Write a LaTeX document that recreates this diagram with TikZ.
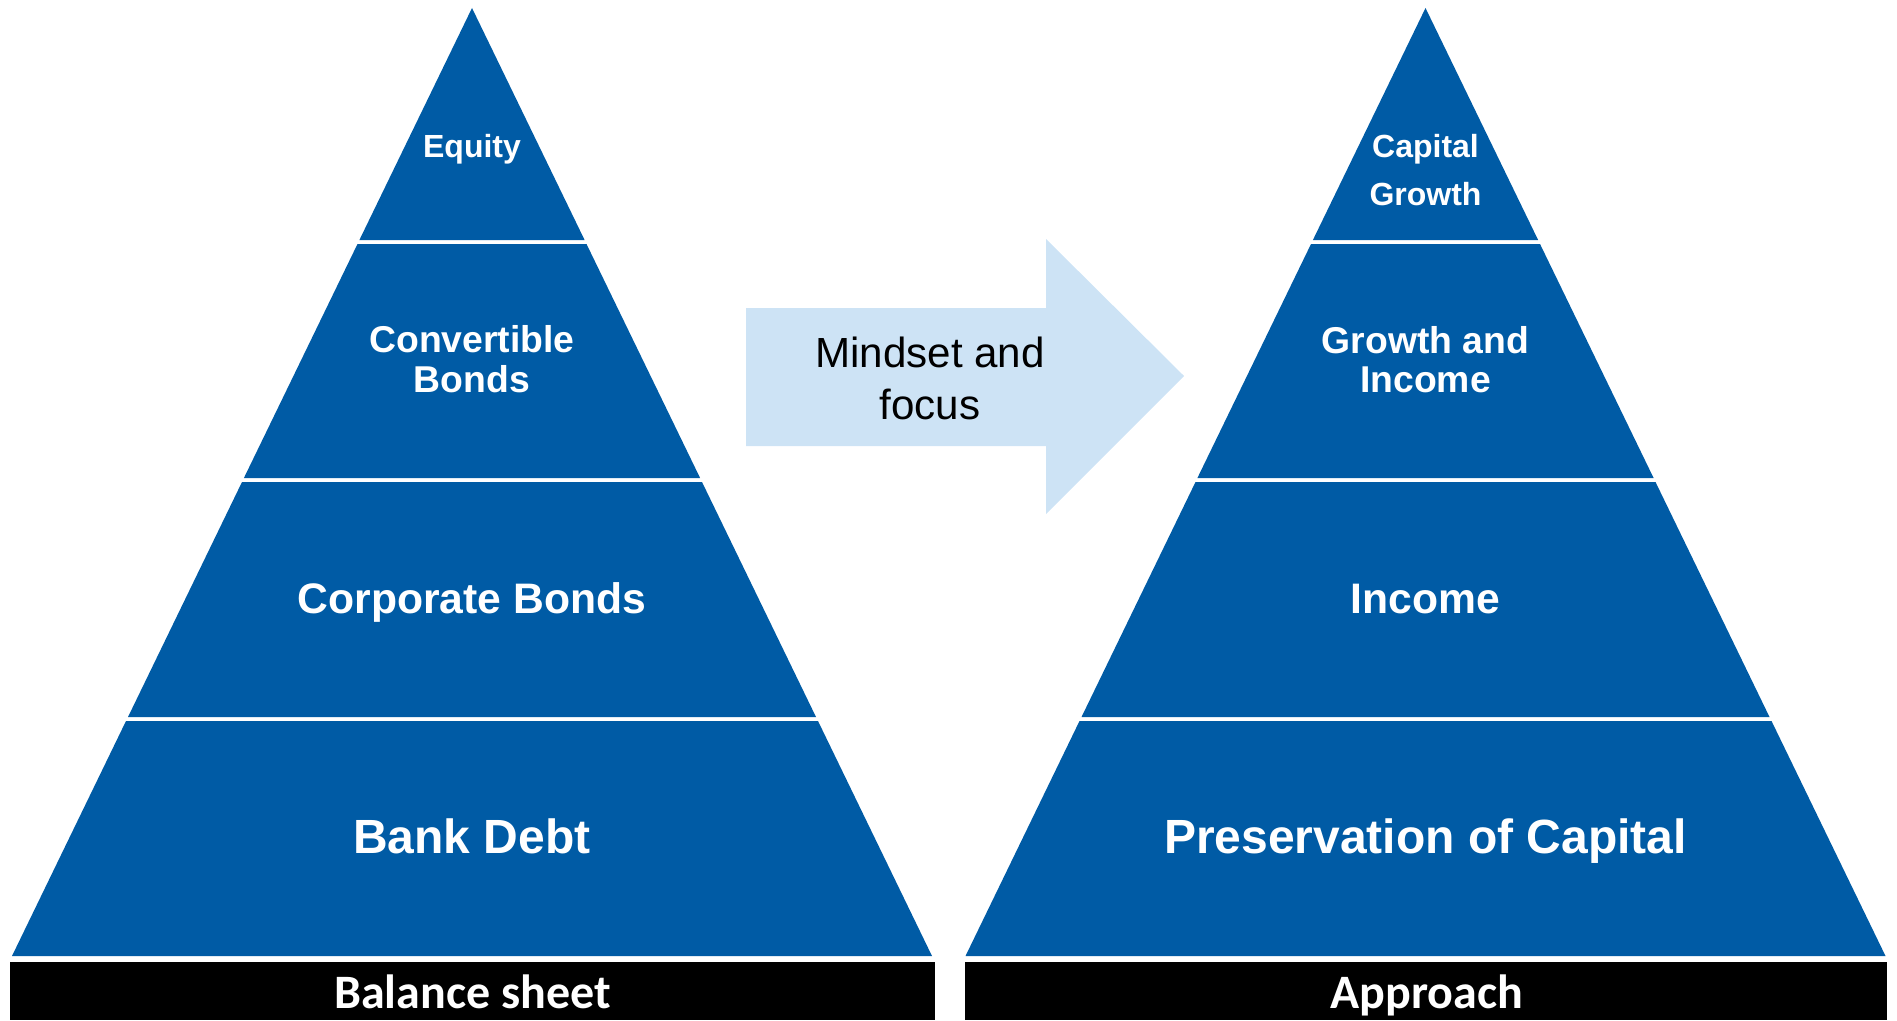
\documentclass[tikz,border=0pt]{standalone}
\usepackage{fontspec}
\setmainfont{Liberation Sans}
\newfontfamily\barfont{Carlito}

\definecolor{pyrblue}{RGB}{0,91,165}
\definecolor{arrblue}{RGB}{205,227,245}

\tikzset{every picture/.style={line width=0.75pt}}
\tikzset{
  layer/.style={fill=pyrblue, draw opacity=0},
  lbl/.style={anchor=base, inner sep=0pt, text=white, font=\bfseries},
  barlbl/.style={anchor=base, inner sep=0pt, text=white, font=\barfont\bfseries\fontsize{36}{42}\selectfont}
}

\begin{document}
\begin{tikzpicture}[x=0.75pt,y=0.75pt,yscale=-1,xscale=1]
\useasboundingbox (0,0) rectangle (1897,1020);

%Shape: Triangle [left top]
\draw [layer] (472,8) -- (584.6,240) -- (359.4,240) -- cycle ;
%Shape: Trapezoid [left 2]
\draw [layer] (357.5,244) -- (586.5,244) -- (700.1,478) -- (243.9,478) -- cycle ;
%Shape: Trapezoid [left 3]
\draw [layer] (242,482) -- (702,482) -- (816,717) -- (128,717) -- cycle ;
%Shape: Trapezoid [left 4]
\draw [layer] (126,721) -- (818,721) -- (932,956) -- (12,956) -- cycle ;

%Shape: Triangle [right top]
\draw [layer] (1425.5,8) -- (1538.1,240) -- (1312.9,240) -- cycle ;
%Shape: Trapezoid [right 2]
\draw [layer] (1311,244) -- (1540,244) -- (1653.6,478) -- (1197.4,478) -- cycle ;
%Shape: Trapezoid [right 3]
\draw [layer] (1195.5,482) -- (1655.5,482) -- (1769.5,717) -- (1081.5,717) -- cycle ;
%Shape: Trapezoid [right 4]
\draw [layer] (1079.5,721) -- (1771.5,721) -- (1885.5,956) -- (965.5,956) -- cycle ;

%Shape: Right Arrow
\draw [fill=arrblue, draw opacity=0] (746,308) -- (1046,308) -- (1046,239) -- (1184,376) -- (1046,514) -- (1046,446) -- (746,446) -- cycle ;

%Shape: Rectangle [bars]
\draw [fill=black, draw opacity=0] (10,962) rectangle (935,1020) ;
\draw [fill=black, draw opacity=0] (965,962) rectangle (1887,1020) ;

% Text Node
\draw (472,157) node [lbl, font=\bfseries\fontsize{24}{28}\selectfont] (equity) {Equity};
\draw (472,352) node [lbl, font=\bfseries\fontsize{28}{32}\selectfont] (conv1) {Convertible};
\draw (472,392) node [lbl, font=\bfseries\fontsize{28}{32}\selectfont] (conv2) {Bonds};
\draw (472,613) node [lbl, font=\bfseries\fontsize{32}{36}\selectfont] (corp) {Corporate Bonds};
\draw (472,853) node [lbl, font=\bfseries\fontsize{36}{40}\selectfont] (bank) {Bank Debt};

% Text Node
\draw (1425.5,157) node [lbl, font=\bfseries\fontsize{24}{28}\selectfont] (capg1) {Capital};
\draw (1425.5,205) node [lbl, font=\bfseries\fontsize{24}{28}\selectfont] (capg2) {Growth};
\draw (1425.5,353) node [lbl, font=\bfseries\fontsize{28}{32}\selectfont] (gri1) {Growth and};
\draw (1425.5,392) node [lbl, font=\bfseries\fontsize{28}{32}\selectfont] (gri2) {Income};
\draw (1425.5,613) node [lbl, font=\bfseries\fontsize{32}{36}\selectfont] (income) {Income};
\draw (1425.5,853) node [lbl, font=\bfseries\fontsize{36}{40}\selectfont] (presv) {Preservation of Capital};

% Text Node
\draw (930,367) node [anchor=base, inner sep=0pt, font=\fontsize{31.6}{36}\selectfont] (mind1) {Mindset and};
\draw (930,419) node [anchor=base, inner sep=0pt, font=\fontsize{31.6}{36}\selectfont] (mind2) {focus};

% Text Node
\draw (472.5,1008) node [barlbl] (balance) {Balance sheet};
\draw (1427,1008) node [barlbl] (approach) {Approach};

\end{tikzpicture}
\end{document}
